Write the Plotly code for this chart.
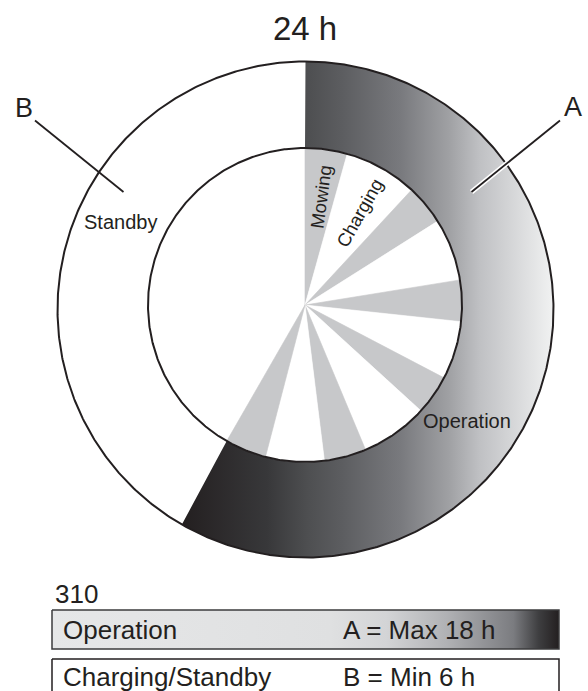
import numpy as np
import plotly.graph_objects as go

# ---- data -------------------------------------------------------------
clock_label = "24 h"
figure_no = "310"

# one operating period: alternating mowing / charging phases (angular span, degrees of the 24 h dial)
cycle_phases = ["Mowing", "Charging", "Mowing", "Charging", "Mowing", "Charging",
                "Mowing", "Charging", "Mowing", "Charging", "Mowing"]
phase_span_deg = [15.6, 27.2, 14.9, 23.1, 15.3, 21.3, 15.0, 24.9, 15.6, 21.7, 15.3]

ring_labels = ["Operation", "Standby"]
ring_keys = ["A", "B"]
legend_names = ["Operation", "Charging/Standby"]
legend_values = ["A = Max 18 h", "B = Min 6 h"]

# ---- styling / layout -------------------------------------------------
W, H = 588, 691
INK = "#231f20"
PHASE_FILL = {"Mowing": "#c7c8ca", "Charging": "#ffffff"}
FONT = "Liberation Sans, Arial, Helvetica, sans-serif"

OUT_C, R_OUT = (305.5, 309.5), 248.0
IN_C, R_IN = (305.0, 305.0), 157.0

ring_scale = [[0.0, "#231f20"], [0.23, "#38383a"], [0.34, "#4e4f51"], [0.43, "#5c5d60"],
              [0.59, "#797a7e"], [0.72, "#a0a1a4"], [0.80, "#bfc0c3"], [1.0, "#f1f2f2"]]
box_scale = [[0.0, "#e6e7e8"], [0.55, "#dfe0e1"], [0.66, "#d3d4d6"], [0.78, "#b0b1b4"],
             [0.91, "#7b7c80"], [0.96, "#3e3e40"], [1.0, "#231f20"]]


def arc(c, r, a0, a1, n=240):
    th = np.radians(np.linspace(a0, a1, n))
    return c[0] + r * np.sin(th), c[1] - r * np.cos(th)


fig = go.Figure()

# operation band of the outer ring (gradient)
op_end = float(np.sum(phase_span_deg))
xo, yo = arc(OUT_C, R_OUT, 0, op_end, 400)
xi, yi = arc(IN_C, R_IN, op_end, 0, 300)
fig.add_trace(go.Scatter(
    x=np.r_[xo, xi, xo[0]], y=np.r_[yo, yi, yo[0]], mode="lines", fill="toself",
    line=dict(width=0, color="rgba(0,0,0,0)"),
    fillgradient=dict(type="horizontal", colorscale=ring_scale),
    hoverinfo="skip", showlegend=False))

# inner dial: mowing / charging phases
start = 0.0
for kind, span in zip(cycle_phases, phase_span_deg):
    ax, ay = arc(IN_C, R_IN, start, start + span, 60)
    fig.add_trace(go.Scatter(
        x=np.r_[IN_C[0], ax, IN_C[0]], y=np.r_[IN_C[1], ay, IN_C[1]],
        mode="lines", fill="toself", fillcolor=PHASE_FILL[kind],
        line=dict(width=0.6, color=PHASE_FILL[kind]),
        hoverinfo="skip", showlegend=False))
    start += span

# circle outlines
for c, r in ((OUT_C, R_OUT), (IN_C, R_IN)):
    cx, cy = arc(c, r, 0, 360, 720)
    fig.add_trace(go.Scatter(x=cx, y=cy, mode="lines", line=dict(color=INK, width=2),
                             hoverinfo="skip", showlegend=False))

# leader lines for A and B
fig.add_trace(go.Scatter(x=[560, 471.5], y=[120.5, 192], mode="lines",
                         line=dict(color="white", width=5), hoverinfo="skip", showlegend=False))
fig.add_trace(go.Scatter(x=[560, 471.5], y=[120.5, 192], mode="lines",
                         line=dict(color=INK, width=1.8), hoverinfo="skip", showlegend=False))
fig.add_trace(go.Scatter(x=[35, 123.5], y=[120.5, 192], mode="lines",
                         line=dict(color=INK, width=1.8), hoverinfo="skip", showlegend=False))

# legend boxes
bx0, bx1 = 52, 559
fig.add_trace(go.Scatter(
    x=[bx0, bx1, bx1, bx0, bx0], y=[610, 610, 649, 649, 610], mode="lines", fill="toself",
    line=dict(color="#3c3c3e", width=1.5),
    fillgradient=dict(type="horizontal", colorscale=box_scale),
    hoverinfo="skip", showlegend=False))
fig.add_trace(go.Scatter(
    x=[bx0, bx1, bx1, bx0, bx0], y=[659, 659, 700, 700, 659], mode="lines", fill="toself",
    fillcolor="white", line=dict(color=INK, width=1.5),
    hoverinfo="skip", showlegend=False))


def label(x, y, text, size, xanchor="center", angle=0):
    fig.add_annotation(x=x, y=y, xref="x", yref="y", text=text, showarrow=False,
                       xanchor=xanchor, yanchor="middle", textangle=angle,
                       font=dict(family=FONT, size=size, color=INK))


label(305, 28, clock_label, 33)
label(24, 108, ring_keys[1], 27)
label(573, 107, ring_keys[0], 27)
label(120, 222, ring_labels[1], 20)
label(467, 421, ring_labels[0], 20)

# phase names written along their slices
mid0 = phase_span_deg[0] / 2
mid1 = phase_span_deg[0] + phase_span_deg[1] / 2
label(320.5, 197, cycle_phases[0], 18.5, angle=-90 + mid0)
label(359, 213, cycle_phases[1], 18.5, angle=-90 + mid1)

label(53, 594, figure_no, 26, xanchor="left")
label(61, 630, legend_names[0], 26, xanchor="left")
label(341, 630, legend_values[0], 26, xanchor="left")
label(61, 677, legend_names[1], 26, xanchor="left")
label(341, 677, legend_values[1], 26, xanchor="left")

fig.update_layout(
    width=W, height=H, autosize=False,
    margin=dict(l=0, r=0, t=0, b=0),
    paper_bgcolor="white", plot_bgcolor="white",
    xaxis=dict(range=[0, W], visible=False, fixedrange=True),
    yaxis=dict(range=[H, 0], visible=False, fixedrange=True),
    showlegend=False,
)

fig.write_html("out.html")
